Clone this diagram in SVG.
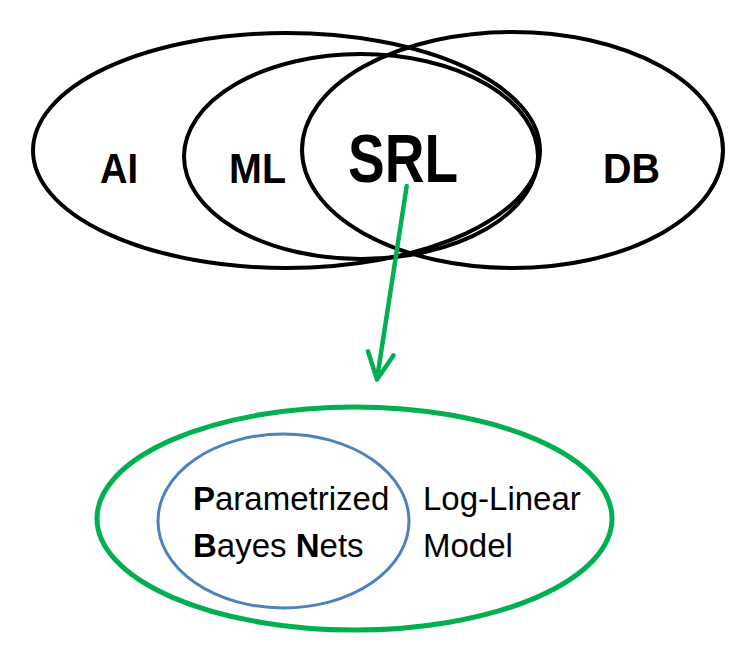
<svg xmlns="http://www.w3.org/2000/svg" width="753" height="656" viewBox="0 0 753 656">
<style>
.set{fill:none;stroke:#000;stroke-width:4}
.lbl{font-family:"Liberation Sans",Arial,sans-serif;font-weight:bold;fill:#000}
.txt{font-family:"Liberation Sans",Arial,sans-serif;font-size:33px;fill:#000}
.b{font-weight:bold}
.arrow{fill:none;stroke:#00B050;stroke-width:4.5;stroke-linecap:round;stroke-linejoin:round}
</style>
<rect width="753" height="656" fill="#fff"/>
<g id="AI"><ellipse class="set" cx="286.5" cy="150.5" rx="253.5" ry="117.5"/><text class="lbl" x="100" y="183" font-size="43" textLength="38" lengthAdjust="spacingAndGlyphs">AI</text></g>
<g id="ML"><ellipse class="set" cx="361" cy="156.5" rx="177" ry="102.5"/><text class="lbl" x="229" y="183" font-size="43" textLength="57" lengthAdjust="spacingAndGlyphs">ML</text></g>
<g id="DB"><ellipse class="set" cx="512.5" cy="150" rx="210.5" ry="118"/><text class="lbl" x="603" y="183" font-size="43" textLength="57" lengthAdjust="spacingAndGlyphs">DB</text></g>
<g id="SRL"><text class="lbl" x="348" y="182" font-size="69" textLength="110" lengthAdjust="spacingAndGlyphs">SRL</text></g>
<g id="connectors"><line class="arrow" x1="406.7" y1="186" x2="377" y2="379"/><polyline class="arrow" points="368,351.3 377,379.5 393.6,355.3"/></g>
<g id="LogLinear"><ellipse cx="354.5" cy="518.5" rx="257.5" ry="111.5" fill="none" stroke="#00B050" stroke-width="5"/><text class="txt" x="423" y="510">Log-Linear</text><text class="txt" x="423" y="557">Model</text></g>
<g id="PBN"><ellipse cx="283.5" cy="521" rx="125.5" ry="87" fill="none" stroke="#4F81BD" stroke-width="3"/><text class="txt" x="193" y="510"><tspan class="b">P</tspan>arametrized</text><text class="txt" x="193" y="557"><tspan class="b">B</tspan>ayes <tspan class="b">N</tspan>ets</text></g>
</svg>
